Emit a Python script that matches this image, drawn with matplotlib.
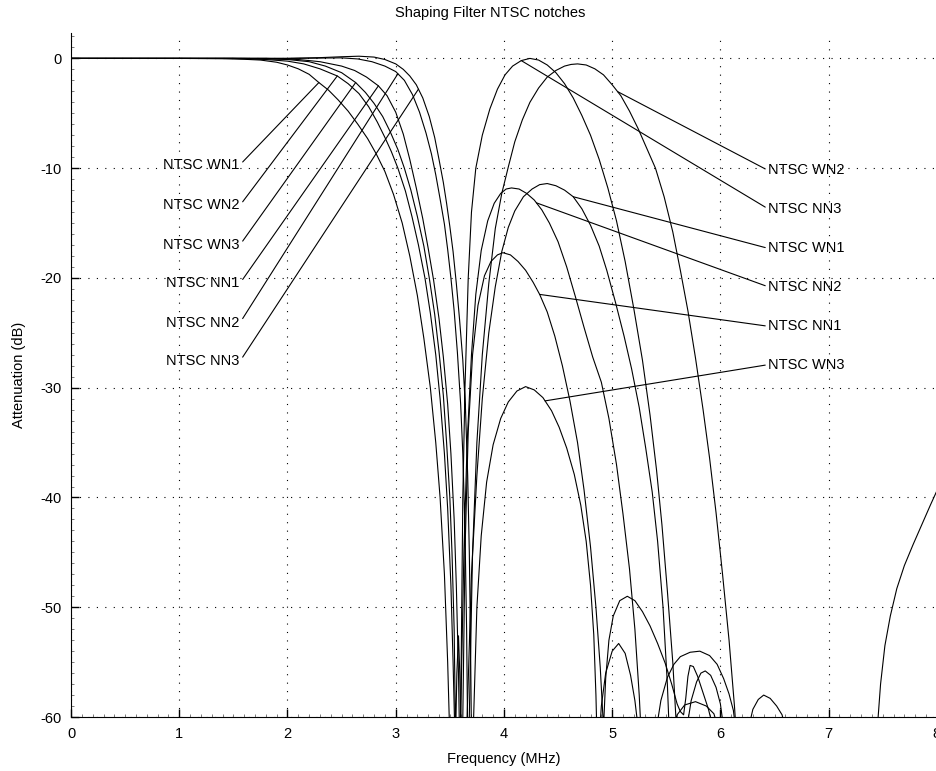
import numpy as np
import matplotlib
matplotlib.use("Agg")
import matplotlib.pyplot as plt
from matplotlib.ticker import MultipleLocator

plt.rcParams['font.family'] = ['Liberation Sans', 'DejaVu Sans']
plt.rcParams['font.size'] = 10.5
plt.rcParams['axes.unicode_minus'] = False

# frequency (MHz) / attenuation (dB); values below -60 are off-scale (nulls)
wn1_f = [0, 1.0, 1.4, 1.6, 1.75, 1.9, 2.0, 2.1, 2.2, 2.29, 2.38, 2.47, 2.56, 2.65, 2.74, 2.82, 2.9, 2.98, 3.06,
         3.13, 3.2, 3.26, 3.32, 3.37, 3.41, 3.45, 3.48, 3.5, 3.52,
         3.62, 3.66, 3.7, 3.75, 3.8, 3.86, 3.92, 3.98, 4.04, 4.1, 4.18, 4.26, 4.33, 4.4, 4.48, 4.56, 4.64, 4.72,
         4.8, 4.88, 4.95, 5.03, 5.11, 5.18, 5.25, 5.31, 5.37, 5.42, 5.47, 5.51, 5.53, 5.56,
         5.66, 5.69, 5.73, 5.78, 5.82, 5.86, 5.91, 5.96, 6.0, 6.03, 6.06]
wn1_db = [0, 0, -0.03, -0.08, -0.15, -0.35, -0.6, -0.95, -1.45, -2.2, -2.9, -3.8, -4.8, -6.0, -7.3, -8.7, -10.3, -12.4, -15.0,
          -18.0, -21.6, -25.5, -30, -35, -40, -47, -55, -62, -80,
          -80, -60, -47, -38, -31, -25, -20.8, -17.6, -15.4, -13.9, -12.6, -11.9, -11.5, -11.4, -11.6, -12.0, -12.6, -13.7,
          -15.2, -17.1, -19.3, -22.2, -25.3, -28.3, -31.8, -35.5, -39.5, -44, -50, -57, -62, -80,
          -80, -61, -58.5, -56.8, -56, -55.8, -56.2, -57.3, -58.8, -61, -80]

wn2_f = [0, 1.5, 1.8, 2.0, 2.15, 2.3, 2.46, 2.56, 2.66, 2.75, 2.83, 2.9, 2.96, 3.02, 3.09, 3.15, 3.21, 3.27,
         3.32, 3.37, 3.41, 3.45, 3.48, 3.51, 3.53, 3.55, 3.57,
         3.64, 3.68, 3.71, 3.75, 3.8, 3.86, 3.92, 3.98, 4.04, 4.1, 4.17, 4.24, 4.32, 4.4, 4.48, 4.56, 4.62, 4.68,
         4.76, 4.84, 4.92, 5.0, 5.08, 5.16, 5.24, 5.32, 5.4, 5.48, 5.56, 5.63, 5.7, 5.77, 5.84, 5.9, 5.96, 6.02,
         6.08, 6.13, 6.15, 6.18,
         7.4, 7.45, 7.48, 7.52, 7.57, 7.63, 7.7, 7.78, 7.86, 7.94, 8.0]
wn2_db = [0, 0, -0.1, -0.25, -0.5, -0.95, -1.6, -2.3, -3.2, -4.4, -5.8, -7.2, -8.5, -10, -12.1, -14.4, -17.0, -20,
          -23.2, -27, -31, -36, -41, -48, -55, -63, -80,
          -80, -60, -45, -35, -27, -20.5, -15.5, -12.3, -9.9, -7.6, -5.6, -4.0, -2.7, -1.7, -1.1, -0.7, -0.55, -0.5,
          -0.6, -0.95, -1.5, -2.4, -3.4, -4.8, -6.4, -8.2, -10.0, -12.6, -15.8, -19.3, -23.0, -27.3, -32.0, -36.4, -41.4, -47,
          -53, -59, -62, -80,
          -80, -61, -57, -53.5, -50.8, -48.3, -46.2, -44.3, -42.5, -40.7, -39.4]

wn3_f = [0, 1.6, 2.0, 2.2, 2.35, 2.5, 2.63, 2.72, 2.8, 2.88, 2.95, 3.02, 3.08, 3.14, 3.2, 3.26, 3.31, 3.36,
         3.4, 3.44, 3.47, 3.5, 3.52, 3.54, 3.553, 3.565, 3.58, 3.592, 3.605, 3.62,
         3.7, 3.72, 3.75, 3.79, 3.84, 3.9, 3.97, 4.04, 4.12, 4.2, 4.28, 4.36, 4.44, 4.51, 4.58, 4.65, 4.71,
         4.76, 4.8, 4.83, 4.85, 4.86, 4.87,
         4.86, 4.88, 4.9, 4.94, 5.0, 5.06, 5.12, 5.17, 5.21, 5.24, 5.26,
         5.52, 5.56, 5.6, 5.67, 5.77, 5.87, 5.94, 5.98, 6.0]
wn3_db = [0, 0, -0.1, -0.3, -0.7, -1.3, -2.2, -3.1, -4.1, -5.3, -6.7, -8.3, -10, -12, -14.4, -17.1, -20, -23.3,
          -26.7, -30.7, -35, -40, -45, -52, -62, -56, -52.6, -56, -62, -80,
          -80, -60, -50, -43.5, -38.6, -35.2, -32.8, -31.3, -30.3, -29.9, -30.2, -30.9, -32.1, -33.6, -35.5, -37.9, -40.7,
          -44, -48, -52.5, -58, -62, -80,
          -80, -62, -59, -56, -54, -53.3, -54.2, -56.2, -58.5, -61, -80,
          -80, -61, -59.8, -58.9, -58.6, -59.0, -59.7, -61, -80]

nn1_f = [0, 1.8, 2.1, 2.3, 2.5, 2.62, 2.73, 2.84, 2.92, 3.0, 3.07, 3.13, 3.19, 3.25, 3.3, 3.35, 3.4, 3.44,
         3.48, 3.51, 3.54, 3.56, 3.58, 3.59, 3.6,
         3.6, 3.62, 3.64, 3.67, 3.71, 3.76, 3.82, 3.88, 3.94, 3.99, 4.06, 4.13, 4.2, 4.27, 4.33, 4.4, 4.47, 4.54,
         4.61, 4.68, 4.74, 4.8, 4.85, 4.89, 4.92, 4.94,
         4.9, 4.92, 4.94, 4.97, 5.01, 5.07, 5.14, 5.21, 5.28, 5.35, 5.42, 5.49, 5.55, 5.6, 5.63, 5.66, 5.68, 5.7,
         5.72, 5.75, 5.79, 5.84, 5.89, 5.92, 5.95]
nn1_db = [0, 0, -0.1, -0.3, -0.7, -1.1, -1.7, -2.5, -3.4, -4.9, -6.9, -9.2, -11.8, -14.6, -17.3, -20.2, -23.7, -27.2,
          -31.5, -36, -42, -48, -56, -62, -80,
          -80, -60, -45, -34, -27, -22.5, -19.8, -18.5, -17.9, -17.7, -17.9, -18.5, -19.3, -20.4, -21.5, -23.1, -25.3, -28.0,
          -31.2, -35.0, -39.3, -44.5, -50, -55.5, -61, -80,
          -80, -61, -56.5, -53, -50.8, -49.4, -49.0, -49.4, -50.4, -51.7, -53.3, -55.1, -57, -58.8, -59.5, -59.8, -58.3, -56.3,
          -55.3, -55.4, -56.3, -57.8, -59.3, -60.5, -80]

nn2_f = [0, 2.0, 2.3, 2.5, 2.65, 2.78, 2.9, 3.0, 3.08, 3.155, 3.22, 3.28, 3.33, 3.37, 3.41, 3.45, 3.48, 3.51,
         3.54, 3.57, 3.6, 3.62, 3.64, 3.655, 3.665, 3.675,
         3.56, 3.6, 3.63, 3.66, 3.7, 3.74, 3.79, 3.85, 3.91, 3.97, 4.02, 4.07, 4.14, 4.21, 4.28, 4.35, 4.42, 4.5,
         4.58, 4.66, 4.74, 4.82, 4.9, 4.97, 5.04, 5.1, 5.16, 5.21, 5.25, 5.27, 5.3,
         5.38, 5.41, 5.45, 5.51, 5.57, 5.63, 5.72, 5.81, 5.9, 5.97, 6.03, 6.08, 6.12, 6.14, 6.17]
nn2_db = [0, 0, 0.03, 0.05, -0.05, -0.3, -0.7, -1.2, -2.0, -3.3, -4.9, -6.8, -8.7, -10.6, -12.8, -15.1, -17.4, -20,
          -23, -26.8, -31.5, -36, -43, -52, -62, -80,
          -80, -60, -45, -35, -27, -21.5, -17.5, -14.8, -13.2, -12.3, -11.9, -11.8, -11.9, -12.3, -12.9, -13.8, -15.0, -16.7,
          -19.0, -21.7, -24.5, -27.2, -29.5, -32.8, -37.0, -41.5, -46.5, -52, -58, -62, -80,
          -80, -61, -58.5, -56.4, -55.2, -54.5, -54.1, -54.0, -54.4, -55.2, -56.5, -57.9, -59.4, -61, -80]

nn3_f = [0, 2.0, 2.3, 2.5, 2.66, 2.8, 2.9, 3.0, 3.07, 3.13, 3.19, 3.25, 3.31, 3.36, 3.4, 3.44, 3.47, 3.5,
         3.53, 3.56, 3.59, 3.62, 3.645, 3.665, 3.68, 3.69, 3.7, 3.71,
         3.58, 3.6, 3.62, 3.64, 3.67, 3.7, 3.74, 3.8, 3.87, 3.94, 4.01, 4.08, 4.16, 4.24, 4.32, 4.4, 4.48, 4.56,
         4.64, 4.72, 4.8, 4.88, 4.96, 5.04, 5.12, 5.2, 5.28, 5.35, 5.41, 5.46, 5.51, 5.56, 5.6, 5.63,
         6.22, 6.26, 6.3, 6.35, 6.4, 6.46, 6.52, 6.57, 6.6, 6.64]
nn3_db = [0, 0, 0.07, 0.15, 0.2, 0.12, -0.1, -0.5, -1.0, -1.6, -2.4, -3.6, -5.3, -7.2, -9.2, -11.3, -13.2, -15.3,
          -17.6, -20.5, -23.8, -27.5, -32, -38, -45, -52, -62, -80,
          -80, -60, -40, -30, -20, -14, -10, -7, -4.6, -2.8, -1.5, -0.7, -0.2, 0, -0.15, -0.6, -1.3, -2.3,
          -3.6, -5.2, -7.0, -9.2, -11.8, -14.8, -18.5, -22.8, -27.5, -32.5, -37.5, -42.5, -48.5, -55, -62, -80,
          -80, -61, -59.3, -58.4, -58.0, -58.3, -59.0, -59.8, -61, -80]

curves = {
    "NTSC WN1": (wn1_f, wn1_db),
    "NTSC WN2": (wn2_f, wn2_db),
    "NTSC WN3": (wn3_f, wn3_db),
    "NTSC NN1": (nn1_f, nn1_db),
    "NTSC NN2": (nn2_f, nn2_db),
    "NTSC NN3": (nn3_f, nn3_db),
}

# label placement: label, frequency of the point on its curve, label height (dB)
left_labels = ["NTSC WN1", "NTSC WN2", "NTSC WN3", "NTSC NN1", "NTSC NN2", "NTSC NN3"]
left_points = [2.29, 2.46, 2.63, 2.84, 3.02, 3.21]
left_label_db = [-9.7, -13.4, -17.0, -20.5, -24.1, -27.6]

right_labels = ["NTSC WN2", "NTSC NN3", "NTSC WN1", "NTSC NN2", "NTSC NN1", "NTSC WN3"]
right_points = [5.05, 4.16, 4.64, 4.30, 4.33, 4.38]
right_label_db = [-10.2, -13.7, -17.3, -20.8, -24.4, -27.9]

fig = plt.figure(figsize=(9.36, 7.71), dpi=100)
ax = fig.add_axes([0.0759, 0.0700, 0.925, 0.887])

for name, (f, db) in curves.items():
    ax.plot(f, db, color='k', lw=0.8)


def on_curve(name, f0):
    # highest crossing of the curve at f0 (the visible lobe)
    f, db = curves[name]
    best = None
    for i in range(len(f) - 1):
        if f[i] <= f0 <= f[i + 1] and f[i + 1] > f[i]:
            d = db[i] + (db[i + 1] - db[i]) * (f0 - f[i]) / (f[i + 1] - f[i])
            if best is None or d > best:
                best = d
    return best


for name, fp, ly in zip(left_labels, left_points, left_label_db):
    ax.annotate(name, xy=(fp, on_curve(name, fp)), xytext=(1.56, ly), ha='right', va='center',
                arrowprops=dict(arrowstyle='-', lw=0.8, color='k', shrinkA=0, shrinkB=0, relpos=(1, 0.5)))

for name, fp, ly in zip(right_labels, right_points, right_label_db):
    ax.annotate(name, xy=(fp, on_curve(name, fp)), xytext=(6.44, ly), ha='left', va='center',
                arrowprops=dict(arrowstyle='-', lw=0.8, color='k', shrinkA=0, shrinkB=0, relpos=(0, 0.5)))

ax.set_xlim(0, 8)
ax.set_ylim(-60, 2.3)
ax.set_xticks(range(0, 9))
ax.set_yticks(range(-60, 1, 10))
ax.xaxis.set_minor_locator(MultipleLocator(0.1))
ax.yaxis.set_minor_locator(MultipleLocator(1))
ax.grid(True, which='major', color='k', linestyle=(0, (1, 6.6)), lw=0.8)
ax.tick_params(which='major', direction='in', length=6, width=1, pad=7)
ax.tick_params(which='minor', direction='in', length=2, width=0.6, colors='0.4')
for s in ['top', 'right']:
    ax.spines[s].set_visible(False)

ax.set_xlabel("Frequency (MHz)", labelpad=8)
ax.set_ylabel("Attenuation (dB)", labelpad=10)
fig.text(490 / 936, 1 - 13 / 771, "Shaping Filter NTSC notches", ha='center', va='center')

fig.savefig("out.png", dpi=100)
